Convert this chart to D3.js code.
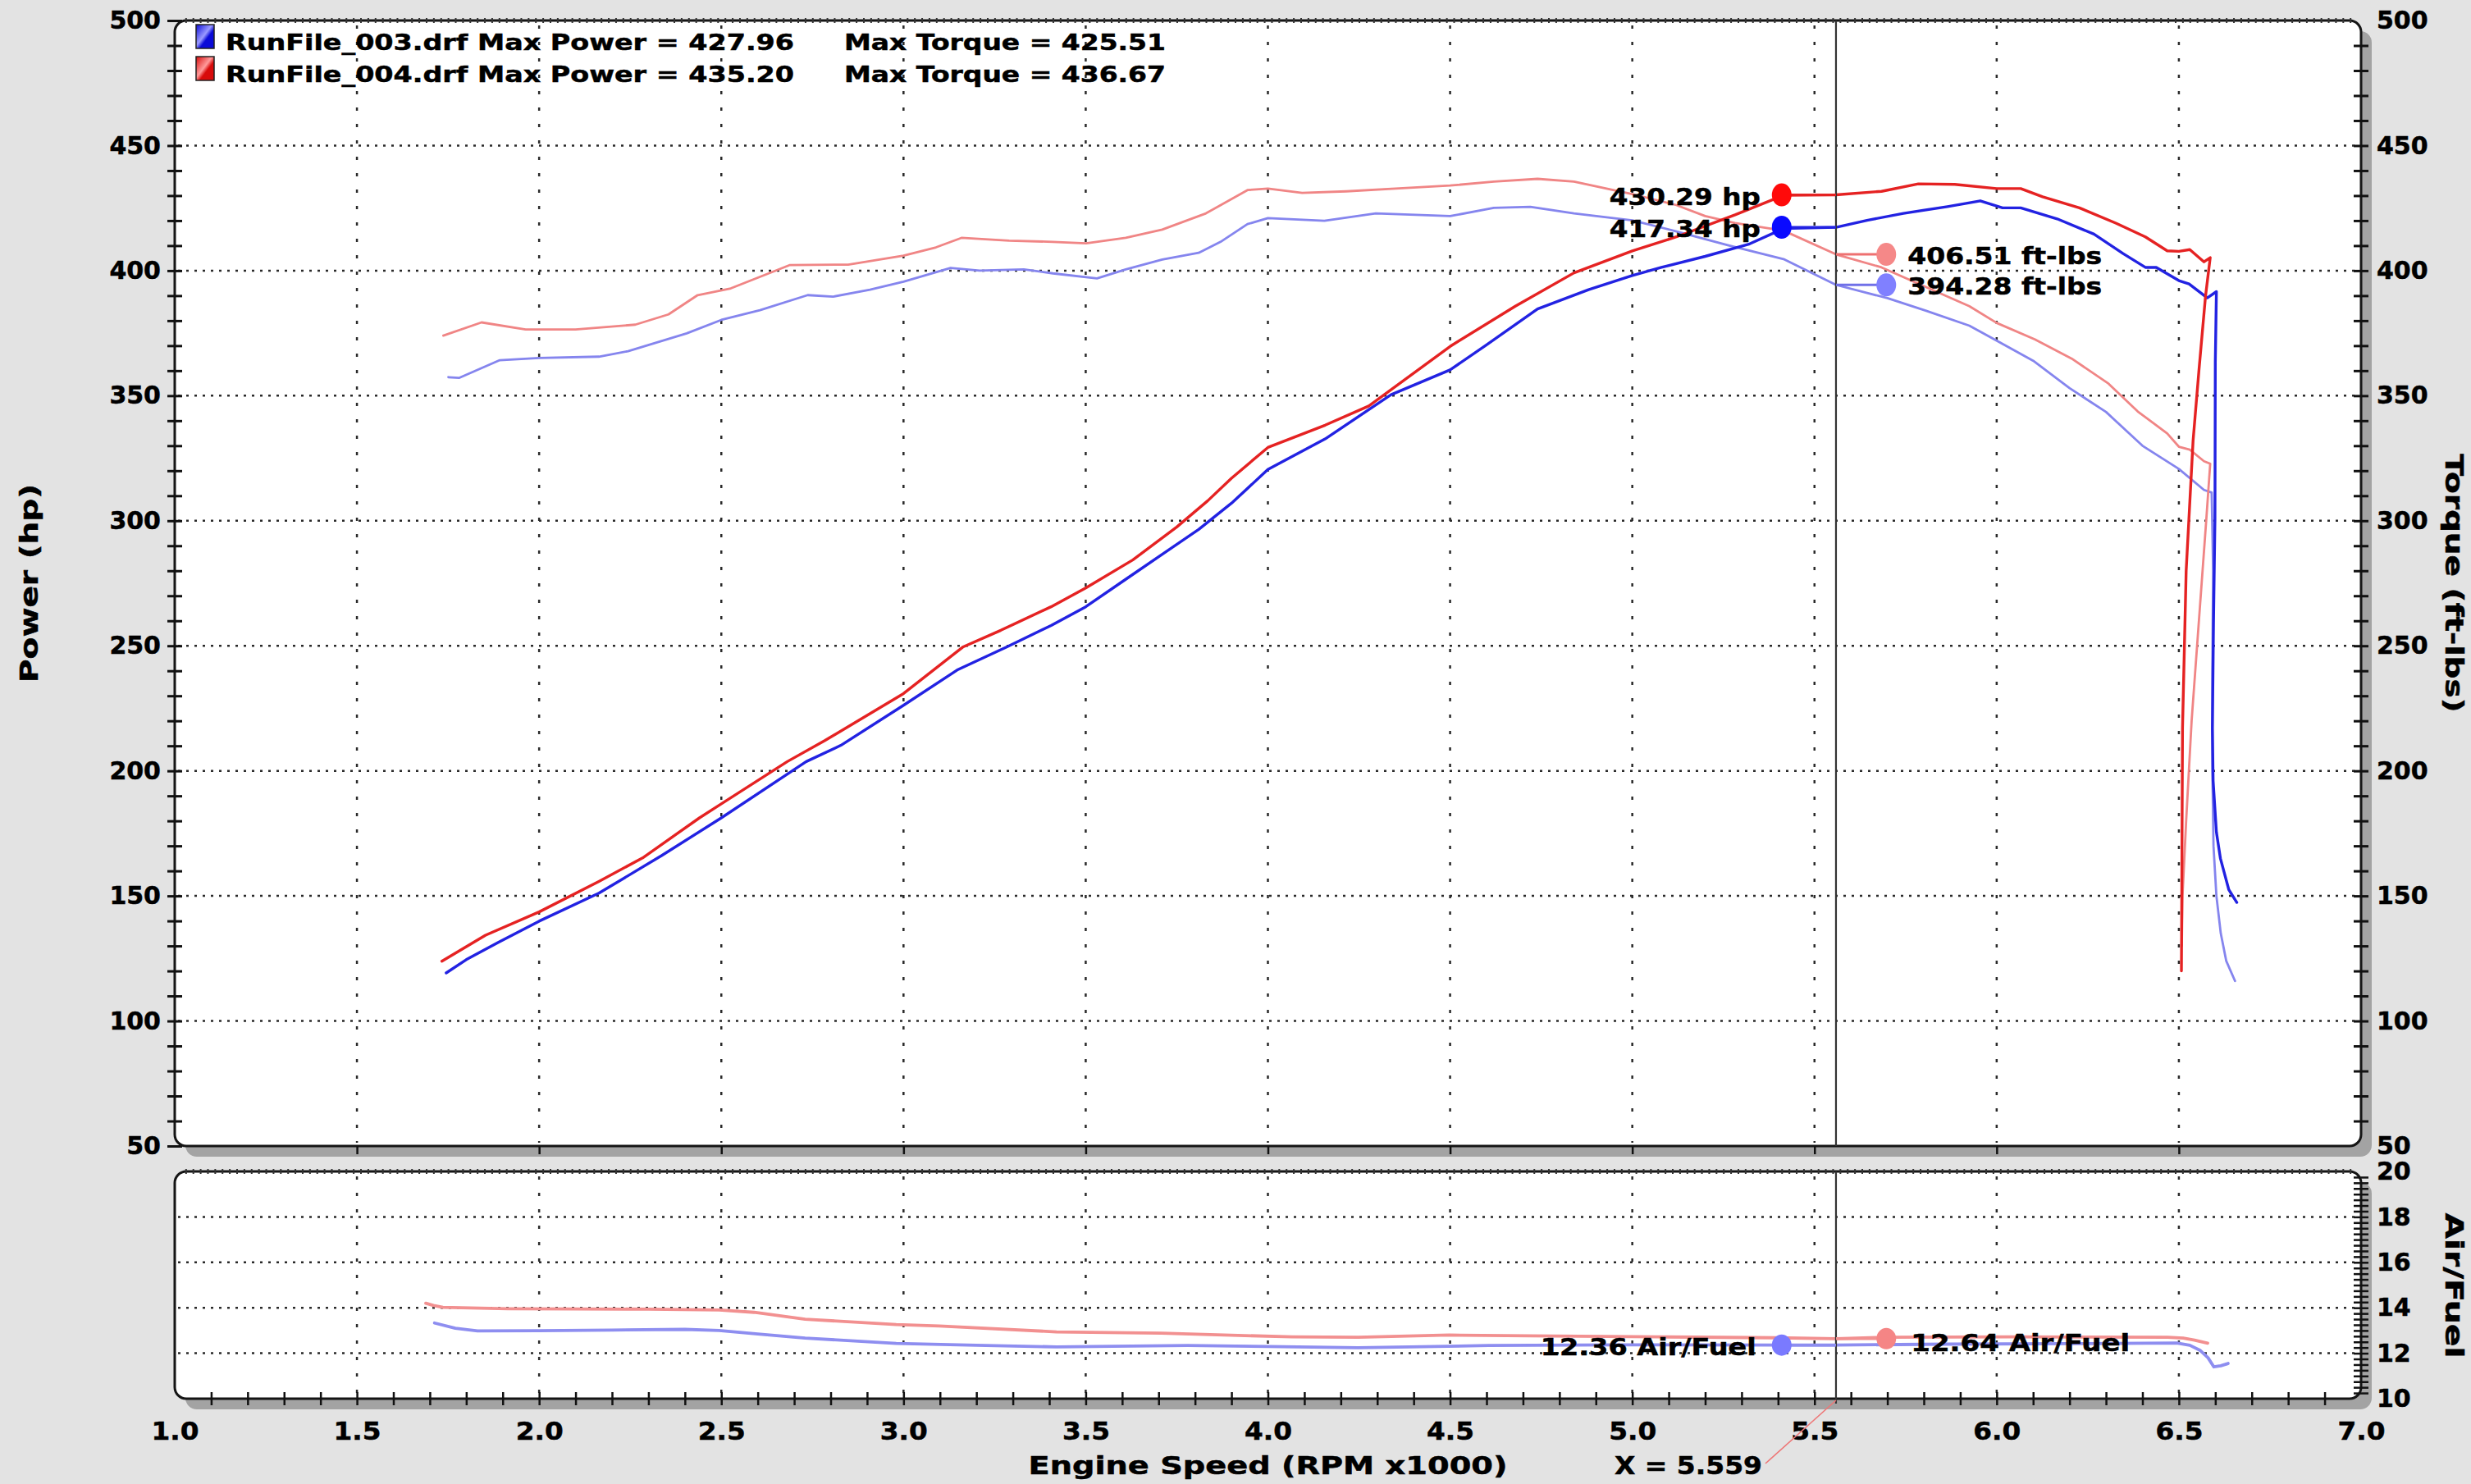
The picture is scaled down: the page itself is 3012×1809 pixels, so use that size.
<!DOCTYPE html>
<html><head><meta charset="utf-8">
<script src="https://cdn.jsdelivr.net/npm/d3@7"></script>
<style>
body{margin:0;background:#e3e3e3;}
svg{display:block;}
text{font-family:"DejaVu Sans",Verdana,sans-serif;font-weight:bold;fill:#000;stroke:#000;stroke-width:0.5px;}
</style></head>
<body><svg id="c" width="3012" height="1809"></svg>
<script>
// ---------- data ----------
const xTicks = [1.0,1.5,2.0,2.5,3.0,3.5,4.0,4.5,5.0,5.5,6.0,6.5,7.0];
const powerTicks = [50,100,150,200,250,300,350,400,450,500];
const afrTicks = [10,12,14,16,18,20];

const legendNames = ["RunFile_003.drf","RunFile_004.drf"];
const maxPower = [427.96, 435.20];
const maxTorque = [425.51, 436.67];

const cursorRpm = 5.559;
const cursorPower = [417.34, 430.29];
const cursorTorque = [394.28, 406.51];
const cursorAfr = [12.36, 12.64];

const run003PowerRpm = [1.745,1.80,1.888,2.0,2.164,2.336,2.5,2.733,2.828,3.0,3.147,3.284,3.405,3.5,3.612,3.716,3.81,3.9,4.0,4.157,4.338,4.5,4.6,4.74,4.88,5.0,5.08,5.2,5.322,5.415,5.559,5.644,5.744,5.865,5.955,6.016,6.066,6.166,6.267,6.347,6.408,6.438,6.5,6.528,6.578,6.603,6.6,6.599,6.595,6.592,6.594,6.603,6.614,6.637,6.659];
const run003Power = [119.2,124.5,131.4,139.9,151.1,166.1,181.2,203.7,210.2,226.2,240.3,249.6,258.1,265.6,276.8,287.2,296.5,307,320.5,332.7,350.4,360.3,370.3,384.7,392.4,398,401.3,405.7,410.7,416.8,417.3,420.1,422.9,425.6,427.9,425.1,425.1,420.7,414.6,406.8,401.3,401.3,396,394.7,389.1,391.6,363.5,300.8,259,217,196,175.5,165,152.5,147.4];

const run004PowerRpm = [1.733,1.853,2.0,2.164,2.284,2.44,2.5,2.681,2.784,3.0,3.164,3.267,3.405,3.5,3.629,3.75,3.835,3.9,4.0,4.157,4.277,4.5,4.679,4.84,5.0,5.121,5.282,5.415,5.559,5.684,5.785,5.885,6.0,6.066,6.126,6.227,6.327,6.408,6.468,6.5,6.53,6.569,6.586,6.573,6.555,6.539,6.52,6.51,6.508,6.507];
const run004Power = [123.9,134.3,143.6,155.8,165.2,181.2,186.8,203.7,212.1,230.9,249.6,256.2,265.6,273.1,284.3,297.5,308,317,329.3,338.2,345.9,369.7,385.8,399.1,407.9,413.5,422.3,430.1,430.3,431.7,434.7,434.5,432.8,432.8,429.5,425.1,419,413.5,407.9,407.7,408.4,403.5,405.2,389.6,360,332,280,217,150,120];

const run003TorqueRpm = [1.751,1.78,1.892,2.0,2.164,2.244,2.405,2.5,2.606,2.737,2.807,2.908,3.0,3.129,3.209,3.33,3.41,3.531,3.61,3.71,3.81,3.87,3.944,4.0,4.155,4.296,4.5,4.62,4.72,4.84,5.0,5.121,5.262,5.415,5.559,5.7,5.805,5.925,6.0,6.1,6.2,6.3,6.4,6.5,6.569,6.59,6.594,6.592,6.592,6.595,6.603,6.615,6.63,6.654];
const run003Torque = [357.4,357.1,364.2,365.1,365.6,367.8,374.9,380.3,384.2,390.2,389.6,392.4,395.6,401.1,400,400.5,398.9,396.9,400.5,404.4,407.1,411.5,418.6,421,419.9,422.9,421.8,425.1,425.5,422.9,420.1,415.7,410.2,404.6,394.3,389,384,378,372,364,353,343.5,330,320.7,312.3,311.3,280,240,200,170,150,135,124,116];

const run004TorqueRpm = [1.737,1.842,1.963,2.1,2.264,2.355,2.435,2.526,2.687,2.848,3.0,3.089,3.159,3.29,3.41,3.501,3.61,3.71,3.83,3.944,4.0,4.094,4.215,4.35,4.5,4.62,4.74,4.84,5.0,5.121,5.2,5.282,5.415,5.559,5.684,5.805,5.925,6.0,6.105,6.206,6.307,6.387,6.468,6.5,6.53,6.569,6.586,6.575,6.555,6.535,6.52,6.51,6.508];
const run004Torque = [374,379.3,376.5,376.5,378.4,382.5,390.2,392.9,402.2,402.4,406,409.3,413.1,412,411.5,410.9,413.1,416.4,422.9,432.2,432.8,431.1,431.7,432.8,434,435.6,436.7,435.6,430.6,426.2,421.8,419,416,406.5,401.3,393.5,385.8,379.1,372.5,364.8,354.8,343.7,334.9,329.6,328.4,323.8,322.8,300,260,220,180,150,130];

const run003AfrRpm = [1.713,1.77,1.831,1.997,2.2,2.4,2.494,2.6,2.73,2.98,3.2,3.42,3.78,4.0,4.248,4.606,4.966,5.395,5.559,5.862,6.2,6.494,6.53,6.559,6.58,6.596,6.615,6.635];
const run003Afr = [13.33,13.1,12.98,12.99,13.02,13.05,13.0,12.85,12.67,12.43,12.35,12.28,12.34,12.3,12.24,12.34,12.37,12.36,12.36,12.4,12.42,12.45,12.35,12.12,11.8,11.4,11.45,11.55];

const run004AfrRpm = [1.689,1.71,1.736,1.914,2.1,2.3,2.494,2.59,2.73,2.98,3.098,3.42,3.708,4.067,4.248,4.498,4.785,5.07,5.395,5.559,5.697,6.04,6.47,6.512,6.543,6.579];
const run004Afr = [14.2,14.1,14.02,13.96,13.95,13.94,13.9,13.8,13.5,13.26,13.2,12.94,12.88,12.72,12.7,12.8,12.76,12.72,12.68,12.64,12.7,12.72,12.7,12.67,12.58,12.44];

// ---------- drawing ----------
const svg = d3.select("#c");
svg.append("rect").attr("width",3012).attr("height",1809).attr("fill","#e3e3e3");

const x = d3.scaleLinear().domain([1,7]).range([213,2878]);
const yP = d3.scaleLinear().domain([50,500]).range([1397,25]);
const yA = d3.scaleLinear().domain([10,20]).range([1705,1428]);

const defs = svg.append("defs");
function grad(id, c1, c2){
  const g = defs.append("linearGradient").attr("id",id).attr("x1","0").attr("y1","0").attr("x2","1").attr("y2","1");
  g.append("stop").attr("offset","0%").attr("stop-color",c1);
  g.append("stop").attr("offset","45%").attr("stop-color",c2);
  g.append("stop").attr("offset","60%").attr("stop-color",c1);
  g.append("stop").attr("offset","100%").attr("stop-color",c1);
}
grad("gBlue","#0b0bd8","#9a9aff");
grad("gRed","#d80b0b","#ff9a9a");

const panels = [
  {top: yP(500), bottom: yP(50), y: yP, h:[100,150,200,250,300,350,400,450]},
  {top: yA(20), bottom: yA(10), y: yA, h:[12,14,16,18]}
];
const pw = x(7)-x(1);
panels.forEach(p=>{
  svg.append("rect").attr("x",x(1)+13).attr("y",p.top+13).attr("width",pw).attr("height",p.bottom-p.top)
    .attr("rx",14).attr("fill","#a3a3a3");
  svg.append("rect").attr("x",x(1)).attr("y",p.top).attr("width",pw).attr("height",p.bottom-p.top)
    .attr("rx",14).attr("fill","#fff");
  svg.append("g").selectAll("line").data(p.h).join("line")
    .attr("x1",x(1)+4).attr("x2",x(7)-4).attr("y1",d=>p.y(d)).attr("y2",d=>p.y(d))
    .attr("stroke","#2a2a2a").attr("stroke-width",2.5).attr("stroke-dasharray","3,7");
  svg.append("g").selectAll("line").data(xTicks.filter(v=>v>1&&v<7)).join("line")
    .attr("x1",d=>x(d)).attr("x2",d=>x(d)).attr("y1",p.top+6).attr("y2",p.bottom-4)
    .attr("stroke","#2a2a2a").attr("stroke-width",2.5).attr("stroke-dasharray","4,16");
});

function curve(rpm, vals, ys, color, w){
  svg.append("path").datum(d3.zip(rpm, vals))
    .attr("d", d3.line().x(d=>x(d[0])).y(d=>ys(d[1])))
    .attr("fill","none").attr("stroke",color).attr("stroke-width",w)
    .attr("stroke-linejoin","round").attr("stroke-linecap","round");
}
curve(run003TorqueRpm, run003Torque, yP, "#8585ee", 2.8);
curve(run004TorqueRpm, run004Torque, yP, "#f08585", 2.8);
curve(run003PowerRpm, run003Power, yP, "#2222e2", 3.4);
curve(run004PowerRpm, run004Power, yP, "#e52222", 3.4);
curve(run003AfrRpm, run003Afr, yA, "#8e8ef0", 3.8);
curve(run004AfrRpm, run004Afr, yA, "#f29090", 3.8);

panels.forEach(p=>{
  svg.append("rect").attr("x",x(1)).attr("y",p.top).attr("width",pw).attr("height",p.bottom-p.top)
    .attr("rx",14).attr("fill","none").attr("stroke","#151515").attr("stroke-width",3);
  const gt = svg.append("g").attr("transform",`translate(0,${p.top-3})`)
    .call(d3.axisBottom(x).tickValues(d3.range(1.03,6.98,0.02)).tickSize(6).tickFormat(""));
  gt.select(".domain").remove();
  gt.selectAll("line").attr("stroke","#333").attr("stroke-width",2);
});

function styleTicks(g, w){ g.select(".domain").remove(); g.selectAll("line").attr("stroke","#111").attr("stroke-width",w); }
styleTicks(svg.append("g").attr("transform",`translate(${x(1)+9},0)`)
  .call(d3.axisLeft(yP).tickValues(d3.range(50,501,10)).tickSize(18).tickFormat("")), 3);
styleTicks(svg.append("g").attr("transform",`translate(${x(7)-9},0)`)
  .call(d3.axisRight(yP).tickValues(d3.range(60,491,10)).tickSize(18).tickFormat("")), 3);
styleTicks(svg.append("g").attr("transform",`translate(${x(7)-9},0)`)
  .call(d3.axisRight(yA).tickValues(d3.range(10.25,19.9,0.25)).tickSize(18).tickFormat("")), 2.5);
styleTicks(svg.append("g").attr("transform",`translate(0,${yA(10)-8})`)
  .call(d3.axisBottom(x).tickValues(d3.range(1.1,6.95,0.1)).tickSize(16).tickFormat("")), 2.5);
styleTicks(svg.append("g").attr("transform",`translate(0,${yP(50)})`)
  .call(d3.axisBottom(x).tickValues(xTicks.filter(v=>v>1&&v<7)).tickSize(10).tickFormat("")), 2.5);

function labels(g){ g.select(".domain").remove(); g.attr("font-size",30).attr("font-family",'"DejaVu Sans",Verdana,sans-serif'); }
labels(svg.append("g").attr("transform",`translate(${x(1)},0)`)
  .call(d3.axisLeft(yP).tickValues(powerTicks).tickSize(0).tickPadding(17).tickFormat(d3.format("d"))));
labels(svg.append("g").attr("transform",`translate(${x(7)},0)`)
  .call(d3.axisRight(yP).tickValues(powerTicks).tickSize(0).tickPadding(19).tickFormat(d3.format("d"))));
labels(svg.append("g").attr("transform",`translate(${x(7)},0)`)
  .call(d3.axisRight(yA).tickValues(afrTicks).tickSize(0).tickPadding(19).tickFormat(d3.format("d"))));
const xl = svg.append("g").attr("transform",`translate(0,${yA(10)})`)
  .call(d3.axisBottom(x).tickValues(xTicks).tickSize(0).tickPadding(29).tickFormat(d3.format(".1f")));
labels(xl);
xl.selectAll("text").attr("textLength",58).attr("lengthAdjust","spacingAndGlyphs");

const cx = x(cursorRpm);
svg.append("line").attr("x1",cx).attr("x2",cx).attr("y1",yP(500)).attr("y2",yP(50)).attr("stroke","#333").attr("stroke-width",2.2);
svg.append("line").attr("x1",cx).attr("x2",cx).attr("y1",yA(20)).attr("y2",yA(10)+6).attr("stroke","#333").attr("stroke-width",2.2);

function txt(str, tx, ty, anchor, size, len, rot){
  const t = svg.append("text").text(str).attr("font-size",size).attr("text-anchor",anchor)
    .attr("transform",`translate(${tx},${ty})` + (rot?` rotate(${rot})`:""));
  if(len) t.attr("textLength",len).attr("lengthAdjust","spacingAndGlyphs");
  return t;
}

const powerMarkRpm = 5.41, torqueMarkRpm = 5.697;
const powerMarkColor = ["#0a0aff","#ff0a0a"], powerLineColor = ["#2222e2","#e52222"];
const torqueMarkColor = ["#8080ff","#f58888"], torqueLineColor = ["#7070e8","#ee7070"];
const afrMarkColor = ["#7a7aff","#f58585"];
[0,1].forEach(i=>{
  const py = yP(cursorPower[i]);
  svg.append("line").attr("x1",cx).attr("x2",x(powerMarkRpm)).attr("y1",py).attr("y2",py).attr("stroke",powerLineColor[i]).attr("stroke-width",3);
  svg.append("ellipse").attr("cx",x(powerMarkRpm)).attr("cy",py).attr("rx",12).attr("ry",14).attr("fill",powerMarkColor[i]);
  txt(cursorPower[i].toFixed(2)+" hp", x(powerMarkRpm)-26, py+12, "end", 29, 184);
  const ty = yP(cursorTorque[i]);
  svg.append("line").attr("x1",cx).attr("x2",x(torqueMarkRpm)).attr("y1",ty).attr("y2",ty).attr("stroke",torqueLineColor[i]).attr("stroke-width",3);
  svg.append("ellipse").attr("cx",x(torqueMarkRpm)).attr("cy",ty).attr("rx",12).attr("ry",14).attr("fill",torqueMarkColor[i]);
  txt(cursorTorque[i].toFixed(2)+" ft-lbs", x(torqueMarkRpm)+26, ty+12, "start", 29, 237);
});
{
  const by = yA(cursorAfr[0]);
  svg.append("line").attr("x1",cx).attr("x2",x(powerMarkRpm)).attr("y1",by).attr("y2",by).attr("stroke","#8e8ef0").attr("stroke-width",3.5);
  svg.append("ellipse").attr("cx",x(powerMarkRpm)).attr("cy",by).attr("rx",12).attr("ry",13).attr("fill",afrMarkColor[0]);
  txt(cursorAfr[0].toFixed(2)+" Air/Fuel", x(powerMarkRpm)-31, by+12, "end", 29, 263);
  const ry = yA(cursorAfr[1]);
  svg.append("line").attr("x1",cx).attr("x2",x(torqueMarkRpm)).attr("y1",ry).attr("y2",ry).attr("stroke","#f29090").attr("stroke-width",3.5);
  svg.append("ellipse").attr("cx",x(torqueMarkRpm)).attr("cy",ry).attr("rx",12).attr("ry",13).attr("fill",afrMarkColor[1]);
  txt(cursorAfr[1].toFixed(2)+" Air/Fuel", x(torqueMarkRpm)+30, ry+15, "start", 29, 267);
}

const swY = [30, 69];
["gBlue","gRed"].forEach((g,i)=>{
  svg.append("rect").attr("x",239).attr("y",swY[i]).attr("width",22).attr("height",29)
    .attr("fill",`url(#${g})`).attr("stroke","#222").attr("stroke-width",1.5);
  txt(`${legendNames[i]} Max Power = ${maxPower[i].toFixed(2)}`, 275, swY[i]+31, "start", 27, 693);
  txt(`Max Torque = ${maxTorque[i].toFixed(2)}`, 1029, swY[i]+31, "start", 27, 392);
});

txt("Power (hp)", 46, 711, "middle", 30, 242, -90);
txt("Torque (ft-lbs)", 2981, 711, "middle", 30, 315, 90);
txt("Air/Fuel", 2981, 1567, "middle", 30, 177, 90);
txt("Engine Speed (RPM x1000)", x(4.0), 1797, "middle", 30, 584);
txt("X = " + cursorRpm.toFixed(3), 1968, 1797, "start", 30, 180);
svg.append("line").attr("x1",2152).attr("y1",1784).attr("x2",cx).attr("y2",yA(10)+2)
  .attr("stroke","#ee7777").attr("stroke-width",1.6);
</script>
</body></html>
